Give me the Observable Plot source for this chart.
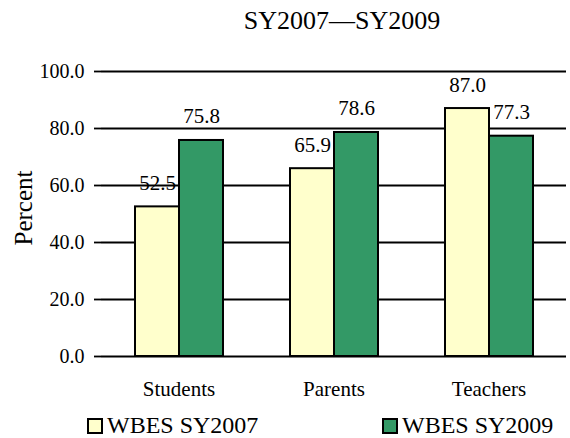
<!DOCTYPE html>
<html>
<head>
<meta charset="utf-8">
<script src="https://cdn.jsdelivr.net/npm/d3@7"></script>
<script src="https://cdn.jsdelivr.net/npm/@observablehq/plot@0.6"></script>
<style>
  html, body { margin: 0; padding: 0; background: #fff; }
  body { width: 570px; height: 438px; position: relative; overflow: hidden; font-family: "Liberation Serif", "Times New Roman", serif; color: #000; }
  #title { position: absolute; top: 7px; left: 342px; transform: translateX(-50%); font-size: 26px; line-height: 28px; white-space: nowrap; }
  #chart { position: absolute; top: 44px; left: 0; }
  #chart svg, #chart svg text { font-family: "Liberation Serif", "Times New Roman", serif !important; }
  .legend-item { position: absolute; top: 415px; height: 21px; display: flex; align-items: center; font-size: 24px; line-height: 21px; white-space: nowrap; }
  .swatch { width: 12px; height: 12px; border: 2px solid #000; margin-right: 4px; }
</style>
</head>
<body>
<div id="title">SY2007—SY2009</div>
<div id="chart"></div>
<div id="legend"></div>
<script>
const categories = ["Students", "Parents", "Teachers"];
const seriesNames = ["WBES SY2007", "WBES SY2009"];
const sy2007 = [52.5, 65.9, 87.0];
const sy2009 = [75.8, 78.6, 77.3];
const yTicks = [0, 20, 40, 60, 80, 100];
const seriesColors = ["#FFFFCC", "#339966"];
const yLabel = "Percent";

const rows = [];
categories.forEach((c, i) => {
  rows.push({category: c, series: seriesNames[0], value: sy2007[i]});
  rows.push({category: c, series: seriesNames[1], value: sy2009[i]});
});

const fmt = d3.format(".1f");

const plot = Plot.plot({
  width: 570,
  height: 360,
  marginLeft: 100,
  marginRight: 3,
  marginTop: 27,
  marginBottom: 48,
  style: {fontFamily: "'Liberation Serif', 'Times New Roman', serif", color: "#000", background: "transparent"},
  fx: {domain: categories, padding: 0, label: null},
  x: {domain: seriesNames, paddingInner: 0, paddingOuter: 0.75, axis: null},
  y: {domain: [0, 100], ticks: yTicks, tickFormat: fmt},
  color: {domain: seriesNames, range: seriesColors},
  marks: [
    Plot.ruleY(yTicks, {stroke: "#000", strokeWidth: 1.8}),
    Plot.barY(rows, {fx: "category", x: "series", y: "value", fill: "series", stroke: "#000", strokeWidth: 2}),
    Plot.text(rows, {fx: "category", x: "series", y: "value", text: d => fmt(d.value), dy: -17, lineAnchor: "bottom", fontSize: 21, fill: "#000"}),
    Plot.axisY({ticks: yTicks, tickFormat: fmt, tickSize: 7, tickPadding: 10, fontSize: 20, label: null, stroke: "#000", strokeWidth: 1.8, strokeOpacity: 1}),
    Plot.axisFx({anchor: "bottom", tickSize: 0, tickPadding: 25, fontSize: 21, label: null}),
    Plot.text([yLabel], {facet: "super", frameAnchor: "left", textAnchor: "middle", text: d => d, rotate: -90, dx: -78, dy: -6, fontSize: 25, fill: "#000"}),
    Plot.text([""], {
      facet: "super",
      frameAnchor: "middle",
      text: d => d,
      render: (index, scales, values, dimensions) => {
        const g = d3.create("svg:g").attr("stroke", "#000").attr("stroke-width", 1.8);
        const fx = scales.fx, y = scales.y;
        const y0 = y(0), y100 = y(yTicks[yTicks.length - 1]);
        const edges = categories.map(c => fx(c)).concat([fx(categories[categories.length - 1]) + fx.bandwidth()]);
        g.append("line").attr("x1", edges[0]).attr("x2", edges[0]).attr("y1", y100).attr("y2", y0 + 7);
        g.append("line").attr("x1", edges[0]).attr("x2", edges[edges.length - 1]).attr("y1", y0).attr("y2", y0);
        edges.forEach(e => g.append("line").attr("x1", e).attr("x2", e).attr("y1", y0).attr("y2", y0 + 7));
        return g.node();
      }
    })
  ]
});
document.getElementById("chart").appendChild(plot);

const legend = document.getElementById("legend");
const legendLeft = [87, 382];
seriesNames.forEach((s, i) => {
  const item = document.createElement("div");
  item.className = "legend-item";
  item.style.left = legendLeft[i] + "px";
  const sw = document.createElement("span");
  sw.className = "swatch";
  sw.style.background = seriesColors[i];
  item.appendChild(sw);
  item.appendChild(document.createTextNode(s));
  legend.appendChild(item);
});
</script>
</body>
</html>
